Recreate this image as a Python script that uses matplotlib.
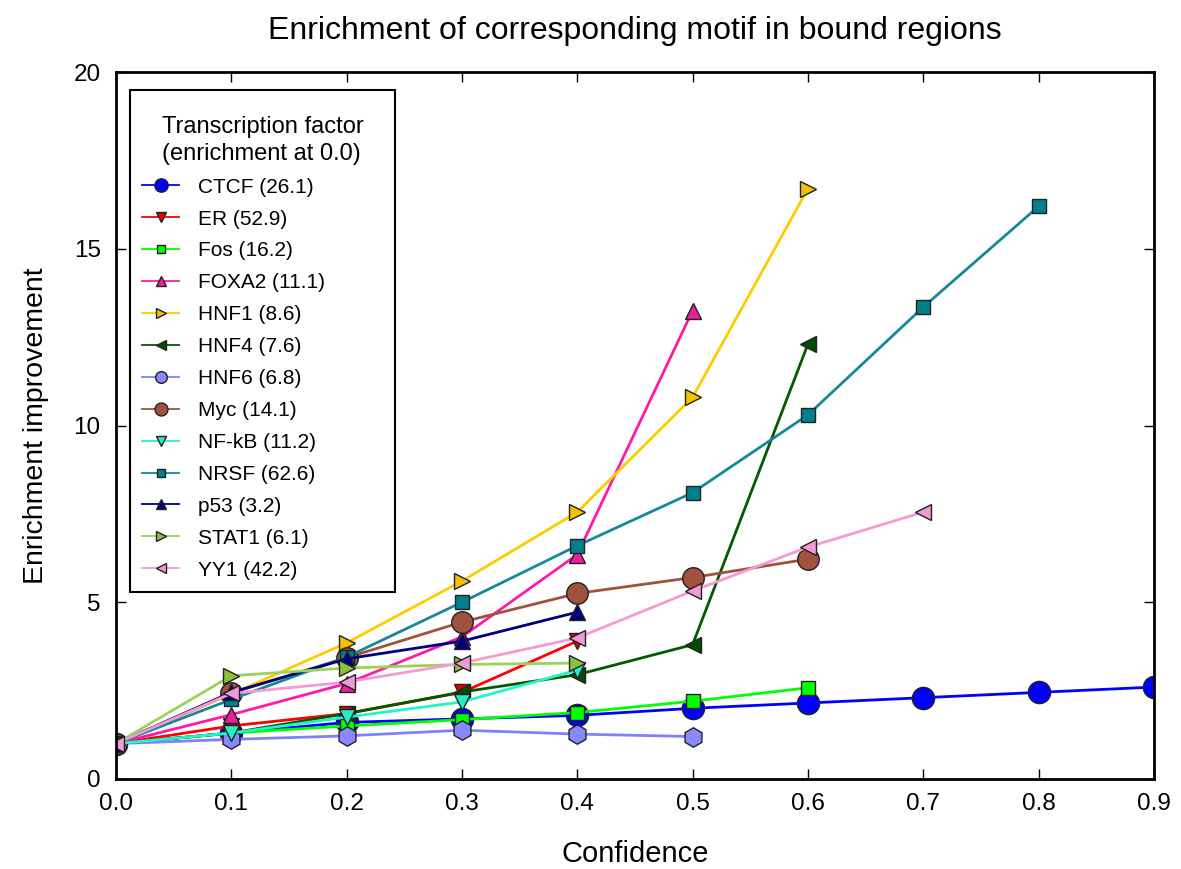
import matplotlib
matplotlib.use("Agg")
import matplotlib.pyplot as plt
from matplotlib.offsetbox import DrawingArea

plt.rcParams['font.family'] = ['Liberation Sans', 'DejaVu Sans']

confidence = [0.0, 0.1, 0.2, 0.3, 0.4, 0.5, 0.6, 0.7, 0.8, 0.9]

factors = ["CTCF", "ER", "Fos", "FOXA2", "HNF1", "HNF4", "HNF6",
           "Myc", "NF-kB", "NRSF", "p53", "STAT1", "YY1"]
enrich_at_zero = [26.1, 52.9, 16.2, 11.1, 8.6, 7.6, 6.8,
                  14.1, 11.2, 62.6, 3.2, 6.1, 42.2]

ctcf = [1.0, 1.3, 1.6, 1.7, 1.8, 2.0, 2.15, 2.3, 2.45, 2.6]
er = [1.0, 1.5, 1.85, 2.45, 3.9]
fos = [1.0, 1.3, 1.5, 1.68, 1.88, 2.2, 2.58]
foxa2 = [1.0, 1.82, 2.7, 4.02, 6.35, 13.25]
hnf1 = [1.0, 2.4, 3.85, 5.6, 7.55, 10.8, 16.7]
hnf4 = [1.0, 1.3, 1.85, 2.46, 2.95, 3.8, 12.3]
hnf6 = [1.0, 1.12, 1.22, 1.38, 1.27, 1.2]
myc = [1.0, 2.43, 3.43, 4.44, 5.25, 5.7, 6.22]
nfkb = [1.0, 1.3, 1.75, 2.18, 3.08]
nrsf = [1.0, 2.25, 3.45, 5.0, 6.6, 8.1, 10.3, 13.35, 16.2]
p53 = [1.0, 2.45, 3.4, 3.9, 4.72]
stat1 = [1.0, 2.92, 3.14, 3.24, 3.28]
yy1 = [1.0, 2.42, 2.74, 3.28, 3.99, 5.32, 6.56, 7.55]

series = [ctcf, er, fos, foxa2, hnf1, hnf4, hnf6, myc, nfkb, nrsf, p53, stat1, yy1]

line_colors = ["#0000ff", "#ff0000", "#00ff00", "#ff1aa8", "#ffcc00", "#005a00",
               "#8080ff", "#a0523f", "#22f5c8", "#17879a", "#000080", "#9ad35a", "#f59ad2"]
face_colors = ["#0000ff", "#ee0000", "#00ff00", "#e8209a", "#f2c200", "#004d00",
               "#8888ff", "#a0523f", "#22eec8", "#00808c", "#000080", "#8cc040", "#f09ad8"]
markers = ["o", "v", "s", "^", ">", "<", "h", "o", "v", "s", "^", ">", "<"]
msizes = [16, 12, 10, 12, 12, 12, 14, 15.5, 12, 10, 12, 12, 12]

fig = plt.figure(figsize=(11.81, 8.69), dpi=100)
ax = fig.add_axes([0.0982, 0.1036, 0.8788, 0.8134])

for name, e0, ys, lc, fc, mk, ms in zip(factors, enrich_at_zero, series,
                                        line_colors, face_colors, markers, msizes):
    ax.plot(confidence[:len(ys)], ys, color=lc, lw=2.0, marker=mk, ms=ms,
            mfc=fc, mec="#222222", mew=1.0, label=f"{name} ({e0})")

ax.set_xlim(0, 0.9)
ax.set_ylim(0, 20)
ax.set_xticks(confidence)
ax.set_xticklabels([f"{v:.1f}" for v in confidence])
ax.set_yticks([0, 5, 10, 15, 20])
ax.tick_params(direction="in", top=True, right=True, length=7, width=1,
               labelsize=17.5)
ax.tick_params(axis="x", pad=10)
ax.tick_params(axis="y", pad=11)
for s in ax.spines.values():
    s.set_linewidth(2)

ax.set_title("Enrichment of corresponding motif in bound regions", fontsize=23, pad=24)
ax.set_xlabel("Confidence", fontsize=21, labelpad=18)
ax.set_ylabel("Enrichment improvement", fontsize=20.5, labelpad=18)

leg = ax.legend(loc="upper left", title="Transcription factor\n(enrichment at 0.0)",
                fontsize=15, title_fontsize=17, frameon=True, fancybox=False,
                edgecolor="black", framealpha=1, markerscale=0.6,
                borderpad=0.6, labelspacing=0.62, handlelength=1.75,
                handletextpad=0.9, mode="expand", borderaxespad=0,
                bbox_to_anchor=(0.0135, 0.5, 0.2553, 0.4745))
leg.get_frame().set_linewidth(1.5)
leg.get_title().set_linespacing(1.3)
for h in leg.legend_handles:
    h.set_linewidth(1.3)
leg.legend_handles[6].set_marker("o")
try:
    leg._legend_box._children.insert(0, DrawingArea(0, 0))
except Exception:
    pass

fig.savefig("out.png", dpi=100)
